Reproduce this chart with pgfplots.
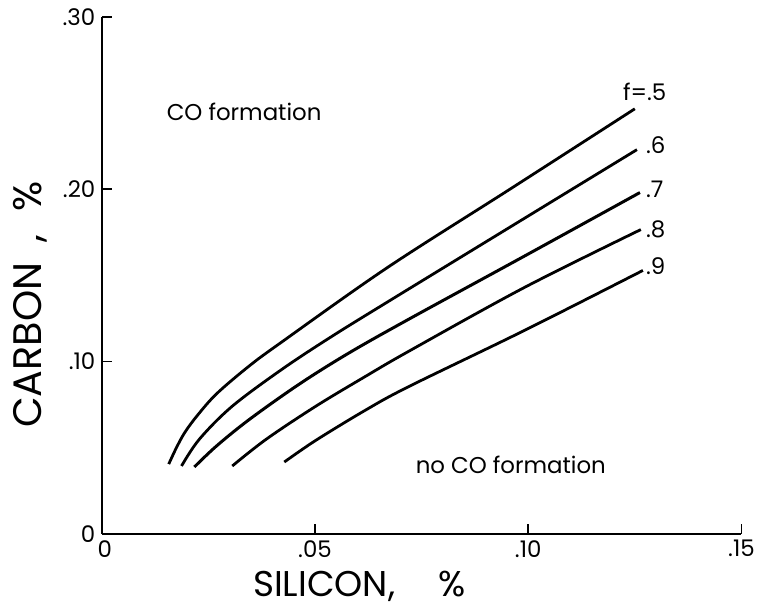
\documentclass[border=0pt]{standalone}
\usepackage{pgfplots}
\pgfplotsset{compat=1.18}
\usepackage{fontspec}
\setmainfont{Poppins}
\begin{document}
\begin{tikzpicture}
\begin{axis}[
  scale only axis, width=641bp, height=518bp,
  xmin=0, xmax=0.15, ymin=0, ymax=0.30,
  axis x line*=bottom, axis y line*=left,
  axis line style={line width=2pt},
  tick align=inside, major tick length=10bp,
  tick style={line width=1.6pt, black},
  xtick={0,0.05,0.10,0.15}, xticklabels={\hspace{6bp}0,.05,.10,.15},
  ytick={0,0.10,0.20,0.30}, yticklabels={0\hspace{8bp},.10,.20,.30},
  /pgf/number format/assume math mode=true,
  ticklabel style={font=\fontsize{23}{26}\selectfont},
  yticklabel style={xshift=-3bp},
  xticklabel style={yshift=-3bp},
  xlabel={SILICON,\hspace{1.2em}\%},
  ylabel={CARBON\hspace{0.5em},\hspace{0.6em}\%},
  xlabel style={font=\fontsize{36}{40}\selectfont, at={(rel axis cs:0.4025,-0.1023)}, anchor=center},
  ylabel style={font=\fontsize{40}{44}\selectfont, at={(rel axis cs:-0.1123,0.444)}, anchor=center},
  clip=false,
]
\addplot[black, line width=2.8pt, smooth, tension=0.55] coordinates {
 (0.0157,0.0405) (0.0175,0.0500) (0.0195,0.0590) (0.0225,0.0690) (0.0270,0.0815) (0.0346,0.0975) (0.0420,0.1110) (0.0670,0.1546) (0.0960,0.2005) (0.1250,0.2467)};
\addplot[black, line width=2.8pt, smooth, tension=0.55] coordinates {
 (0.0187,0.0394) (0.0229,0.0550) (0.0306,0.0741) (0.0423,0.0956) (0.0540,0.1147) (0.0680,0.1361) (0.0967,0.1795) (0.1255,0.2230)};
\addplot[black, line width=3pt, smooth, tension=0.55] coordinates {
 (0.0217,0.0388) (0.0269,0.0510) (0.0346,0.0664) (0.0463,0.0869) (0.0579,0.1049) (0.0720,0.1246) (0.0991,0.1612) (0.1262,0.1981)};
\addplot[black, line width=2.8pt, smooth, tension=0.55] coordinates {
 (0.0306,0.0394) (0.0386,0.0550) (0.0502,0.0741) (0.0619,0.0915) (0.0720,0.1060) (0.0991,0.1430) (0.1264,0.1766)};
\addplot[black, line width=2.8pt, smooth, tension=0.55] coordinates {
 (0.0428,0.0417) (0.0502,0.0543) (0.0619,0.0719) (0.0720,0.0855) (0.0993,0.1183) (0.1269,0.1529)};
\node[anchor=west, font=\fontsize{23}{26}\selectfont, inner sep=0pt] at (axis cs:0.1222,0.2566) {f=.5};
\node[anchor=west, font=\fontsize{23}{26}\selectfont, inner sep=0pt] at (axis cs:0.1276,0.2259) {.6};
\node[anchor=west, font=\fontsize{23}{26}\selectfont, inner sep=0pt] at (axis cs:0.1276,0.1998) {.7};
\node[anchor=west, font=\fontsize{23}{26}\selectfont, inner sep=0pt] at (axis cs:0.1276,0.1766) {.8};
\node[anchor=west, font=\fontsize{23}{26}\selectfont, inner sep=0pt] at (axis cs:0.1276,0.1552) {.9};
\node[anchor=west, font=\fontsize{23}{26}\selectfont, inner sep=0pt] at (axis cs:0.0152,0.2450) {CO formation};
\node[anchor=west, font=\fontsize{23}{26}\selectfont, inner sep=0pt] at (axis cs:0.0736,0.0400) {no CO formation};
\coordinate (O) at (rel axis cs:0,0);
\end{axis}
\path (O) ++(-102bp,-75bp) rectangle ++(758bp,610bp);
\end{tikzpicture}
\end{document}
